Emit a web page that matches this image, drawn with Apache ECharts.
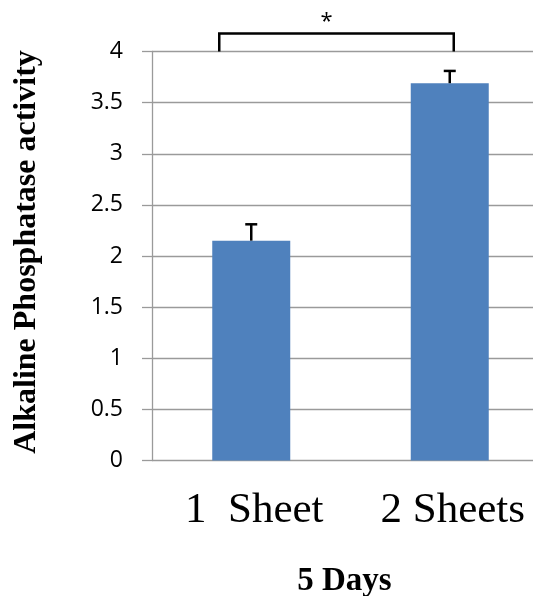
<!DOCTYPE html>
<html>
<head>
<meta charset="utf-8">
<script src="https://cdn.jsdelivr.net/npm/echarts@6/dist/echarts.min.js"></script>
<style>
  html, body { margin: 0; padding: 0; background: #fff; overflow: hidden; }
  #frame { width: 533px; height: 596px; overflow: hidden; position: relative; }
  /* the plot runs past the right edge of the frame, so the canvas is wider than the frame */
  #chart { width: 549px; height: 596px; position: absolute; left: 0; top: 0; }
</style>
</head>
<body>
<div id="frame"><div id="chart"></div></div>
<script>
// Alkaline phosphatase activity after 5 days, one vs two cell sheets
const categories = ['1  Sheet', '2 Sheets'];
const activity = [2.15, 3.69];
const errors = [0.16, 0.12];
const yTicks = { min: 0, max: 4, interval: 0.5 };
// significance bracket drawn between the two groups, at the top of the axis
const sigPair = [0, 1];
const sigLevel = 4;
const sigMark = '*';

const chart = echarts.init(document.getElementById('chart'), null, { renderer: 'canvas' });

const errData = categories.map((c, i) => [i, activity[i], errors[i]]);

chart.setOption({
  animation: false,
  backgroundColor: '#ffffff',
  grid: {
    left: 152, right: 0, top: 51.5, bottom: 135.5,
    containLabel: false,
    outerBoundsMode: 'none'
  },
  xAxis: {
    type: 'category',
    data: categories,
    axisLine: { show: false },
    axisTick: { show: false },
    axisLabel: {
      margin: 29,
      fontFamily: 'Liberation Serif',
      fontSize: 43,
      color: '#000',
      padding: [0, 0, 0, 6]
    },
    name: '5 Days',
    nameLocation: 'middle',
    nameGap: 104,
    nameTextStyle: {
      fontFamily: 'Liberation Serif',
      fontWeight: 'bold',
      fontSize: 33,
      color: '#000',
      padding: [0, 12, 0, 0]
    }
  },
  yAxis: {
    type: 'value',
    min: yTicks.min,
    max: yTicks.max,
    interval: yTicks.interval,
    axisLine: { show: true, lineStyle: { color: '#9a9a9a', width: 1.3 } },
    axisTick: { show: true, length: 10, lineStyle: { color: '#9a9a9a', width: 1.3 } },
    splitLine: { show: true, lineStyle: { color: '#9a9a9a', width: 1.3 } },
    axisLabel: {
      margin: 29,
      fontFamily: 'Open Sans',
      fontSize: 23,
      color: '#000'
    },
    name: 'Alkaline Phosphatase activity',
    nameLocation: 'middle',
    nameRotate: 90,
    nameGap: 109,
    nameTextStyle: {
      fontFamily: 'Liberation Serif',
      fontWeight: 'bold',
      fontSize: 32,
      color: '#000',
      padding: [0, 0, 0, 8]
    }
  },
  series: [
    {
      type: 'bar',
      data: activity,
      barWidth: 78,
      itemStyle: { color: '#4f81bd' },
      z: 2
    },
    {
      // upper error whiskers
      type: 'custom',
      data: errData,
      z: 3,
      renderItem: function (params, api) {
        const x = api.value(0);
        const top = api.coord([x, api.value(1) + api.value(2)]);
        const base = api.coord([x, api.value(1)]);
        const half = 6;
        return {
          type: 'group',
          children: [
            { type: 'line', shape: { x1: base[0], y1: base[1], x2: top[0], y2: top[1] },
              style: { stroke: '#000', lineWidth: 2.5 } },
            { type: 'line', shape: { x1: top[0] - half, y1: top[1], x2: top[0] + half, y2: top[1] },
              style: { stroke: '#000', lineWidth: 2.5 } }
          ]
        };
      }
    },
    {
      // significance bracket with star
      type: 'custom',
      data: [[sigPair[0], sigPair[1], sigLevel]],
      clip: false,
      z: 4,
      renderItem: function (params, api) {
        const a = api.coord([api.value(0), api.value(2)]);
        const b = api.coord([api.value(1), api.value(2)]);
        const x1 = a[0] - 32;
        const x2 = b[0] + 4;
        const yTop = a[1] - 18;
        return {
          type: 'group',
          children: [
            { type: 'polyline',
              shape: { points: [[x1, a[1]], [x1, yTop], [x2, yTop], [x2, b[1]]] },
              style: { stroke: '#000', lineWidth: 2.5, fill: null } },
            { type: 'text',
              style: { text: sigMark, x: (x1 + x2) / 2 - 10, y: yTop - 12,
                       align: 'center', verticalAlign: 'middle',
                       font: '22px "Open Sans"', fill: '#000' } }
          ]
        };
      }
    }
  ]
});
</script>
</body>
</html>
